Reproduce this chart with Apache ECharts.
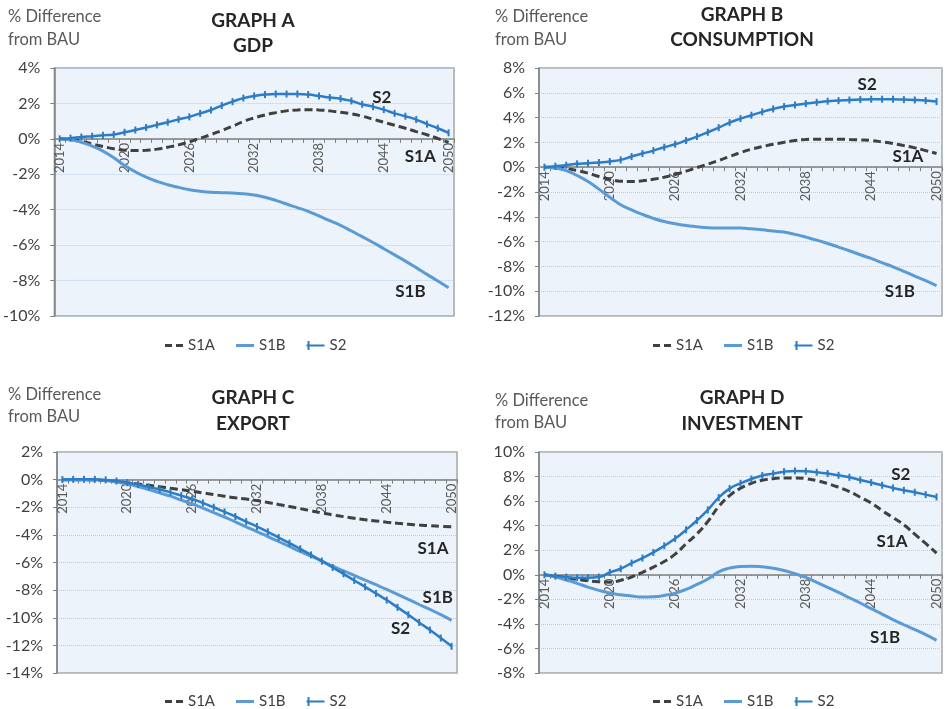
<!DOCTYPE html>
<html><head><meta charset="utf-8">
<script src="https://cdn.jsdelivr.net/npm/echarts@6/dist/echarts.min.js"></script>
<style>html,body{margin:0;padding:0;background:#fff}#c{width:945px;height:709px}</style>
</head><body><div id="c"></div>
<script>
const years = ['2014','2015','2016','2017','2018','2019','2020','2021','2022','2023','2024','2025','2026','2027','2028','2029','2030','2031','2032','2033','2034','2035','2036','2037','2038','2039','2040','2041','2042','2043','2044','2045','2046','2047','2048','2049','2050'];

const gdpS1A = [0,-0.04,-0.13,-0.28,-0.43,-0.56,-0.64,-0.66,-0.64,-0.58,-0.47,-0.34,-0.17,0.04,0.24,0.47,0.71,0.98,1.18,1.35,1.48,1.58,1.63,1.65,1.63,1.58,1.5,1.41,1.28,1.11,0.94,0.77,0.6,0.41,0.23,0.02,-0.2];
const gdpS1B = [0,-0.06,-0.19,-0.41,-0.69,-1.07,-1.5,-1.86,-2.16,-2.4,-2.59,-2.74,-2.87,-2.96,-3.02,-3.04,-3.06,-3.1,-3.17,-3.3,-3.47,-3.68,-3.88,-4.09,-4.35,-4.62,-4.88,-5.2,-5.52,-5.85,-6.2,-6.55,-6.9,-7.27,-7.65,-8.02,-8.4];
const gdpS2 = [0,0.04,0.1,0.15,0.2,0.25,0.37,0.5,0.64,0.79,0.94,1.1,1.24,1.44,1.63,1.88,2.1,2.3,2.42,2.5,2.53,2.53,2.53,2.5,2.42,2.33,2.27,2.14,1.95,1.82,1.65,1.44,1.28,1.09,0.83,0.6,0.34];

const consS1A = [0,-0.03,-0.11,-0.27,-0.48,-0.75,-0.97,-1.13,-1.15,-1.1,-0.97,-0.81,-0.59,-0.32,-0.03,0.24,0.54,0.86,1.18,1.45,1.66,1.85,2.01,2.15,2.23,2.26,2.26,2.26,2.23,2.2,2.15,2.04,1.91,1.74,1.56,1.34,1.1];
const consS1B = [0,-0.08,-0.27,-0.67,-1.15,-1.77,-2.42,-3.03,-3.44,-3.81,-4.13,-4.38,-4.56,-4.7,-4.8,-4.89,-4.91,-4.91,-4.91,-4.97,-5.05,-5.15,-5.23,-5.42,-5.64,-5.88,-6.15,-6.44,-6.74,-7.06,-7.36,-7.7,-8.03,-8.4,-8.78,-9.15,-9.56];
const consS2 = [0,0.08,0.16,0.27,0.32,0.38,0.46,0.59,0.86,1.1,1.34,1.61,1.85,2.15,2.47,2.82,3.19,3.6,3.92,4.19,4.46,4.7,4.89,5.02,5.13,5.23,5.32,5.37,5.42,5.45,5.48,5.48,5.48,5.45,5.42,5.37,5.29];

const expS1A = [0,0,-0.01,-0.03,-0.07,-0.13,-0.22,-0.31,-0.41,-0.51,-0.62,-0.73,-0.84,-0.96,-1.08,-1.2,-1.32,-1.41,-1.52,-1.65,-1.8,-1.95,-2.1,-2.25,-2.41,-2.55,-2.68,-2.8,-2.9,-2.99,-3.08,-3.16,-3.23,-3.29,-3.34,-3.38,-3.42];
const expS1B = [0,0,0,-0.02,-0.07,-0.17,-0.31,-0.51,-0.72,-0.96,-1.2,-1.49,-1.76,-2.07,-2.39,-2.72,-3.06,-3.42,-3.76,-4.12,-4.48,-4.84,-5.2,-5.54,-5.9,-6.27,-6.6,-6.94,-7.28,-7.61,-7.95,-8.31,-8.67,-9.04,-9.4,-9.78,-10.19];
const expS2 = [0,0.02,0.02,0.02,-0.02,-0.1,-0.22,-0.36,-0.53,-0.72,-0.92,-1.16,-1.4,-1.69,-2.0,-2.34,-2.67,-3.04,-3.4,-3.78,-4.19,-4.6,-5.01,-5.45,-5.9,-6.36,-6.82,-7.3,-7.76,-8.24,-8.72,-9.25,-9.78,-10.34,-10.89,-11.47,-12.07];

const invS1A = [0,-0.11,-0.24,-0.38,-0.49,-0.57,-0.6,-0.45,-0.18,0.2,0.62,1.08,1.68,2.52,3.33,4.34,5.56,6.45,7.05,7.45,7.7,7.83,7.89,7.89,7.83,7.67,7.43,7.13,6.78,6.31,5.85,5.23,4.66,4.07,3.31,2.55,1.76];
const invS1B = [0,-0.19,-0.43,-0.7,-1.0,-1.27,-1.49,-1.63,-1.73,-1.82,-1.79,-1.68,-1.49,-1.19,-0.79,-0.35,0.24,0.54,0.68,0.7,0.65,0.54,0.35,0.08,-0.22,-0.62,-1.03,-1.44,-1.87,-2.3,-2.76,-3.2,-3.66,-4.07,-4.47,-4.88,-5.34];
const invS2 = [0,-0.11,-0.19,-0.24,-0.24,-0.19,0.19,0.49,0.95,1.36,1.82,2.36,2.95,3.66,4.42,5.28,6.29,7.02,7.45,7.8,8.08,8.24,8.4,8.46,8.43,8.35,8.24,8.1,7.94,7.72,7.51,7.29,7.07,6.88,6.72,6.53,6.34];

const seriesNames = ['S1A','S1B','S2'];
const titles = ['GRAPH A\nGDP','GRAPH B\nCONSUMPTION','GRAPH C\nEXPORT','GRAPH D\nINVESTMENT'];
const yTitle = '% Difference\nfrom BAU';
const yMins = [-10,-12,-14,-8];
const yMaxs = [4,8,2,10];

const FONT = 'Lato';
const C_S1A = '#404040', C_S1B = '#5B9BD5', C_S2 = '#2C7CC6';
const ICONS = [
  'path://M0,4H7V7H0Z M11,4H18V7H11Z',
  'path://M0,4H18V7H0Z',
  'path://M0,4.5H18V6.5H0Z M1,1H3V10H1Z'
];

const panels = [
  {grid:{left:53,top:68,width:401,height:248}, title:{x:253,y:8,lh:25}, ytitle:{x:8,y:5,lh:23}, legend:{left:160,top:333},
   data:[gdpS1A,gdpS1B,gdpS2],
   labels:[{name:'S2',coord:[30,2.35],off:[-2,0]},{name:'S1A',coord:[33,-0.98],off:[4,0]},{name:'S1B',coord:[32,-8.6],off:[5,0]}]},
  {grid:{left:539,top:68,width:403,height:248}, title:{x:742,y:2,lh:25}, ytitle:{x:495,y:5,lh:23}, legend:{left:648,top:333},
   data:[consS1A,consS1B,consS2],
   labels:[{name:'S2',coord:[30,6.63],off:[-4,0]},{name:'S1A',coord:[33,0.9],off:[4,0]},{name:'S1B',coord:[33,-10.06],off:[-4,0]}]},
  {grid:{left:57,top:452,width:400,height:221}, title:{x:253,y:385,lh:26}, ytitle:{x:8,y:383,lh:22.5}, legend:{left:160,top:689},
   data:[expS1A,expS1B,expS2],
   labels:[{name:'S1A',coord:[34,-5.0],off:[3,0]},{name:'S1B',coord:[35,-8.55],off:[-3,0]},{name:'S2',coord:[31,-10.8],off:[3,0]}]},
  {grid:{left:539,top:452,width:403,height:221}, title:{x:742,y:385,lh:26}, ytitle:{x:495,y:390,lh:21.5}, legend:{left:648,top:689},
   data:[invS1A,invS1B,invS2],
   labels:[{name:'S2',coord:[33,8.2],off:[-3,0]},{name:'S1A',coord:[32,2.7],off:[-1,0]},{name:'S1B',coord:[31,-5.1],off:[3,0]}]}
];

const option = {animation:false, title:[], grid:[], xAxis:[], yAxis:[], series:[], legend:[]};
panels.forEach((p,i)=>{
  option.title.push({text:titles[i], left:p.title.x, top:p.title.y, textAlign:'center', padding:0,
    textStyle:{fontFamily:FONT,fontSize:19,fontWeight:'bold',color:'#262626',lineHeight:p.title.lh}});
  option.title.push({text:yTitle, left:p.ytitle.x, top:p.ytitle.y, padding:0,
    textStyle:{fontFamily:FONT,fontSize:16.5,fontWeight:'normal',color:'#595959',lineHeight:p.ytitle.lh}});
  option.grid.push(Object.assign({show:true,backgroundColor:'#ECF3FA',borderColor:'#A6A6A6',borderWidth:1.5}, p.grid));
  // place the category axis on the zero line of the value axis
  const zeroOffset = p.grid.height * yMins[i] / (yMaxs[i] - yMins[i]);
  option.xAxis.push({type:'category',gridIndex:i,data:years,boundaryGap:true,position:'bottom',offset:zeroOffset,
    axisLine:{onZero:false,lineStyle:{color:'#7F7F7F',width:1.5}},
    axisTick:{show:true,interval:0,length:4,lineStyle:{color:'#7F7F7F'}},
    axisLabel:{interval:5,rotate:90,fontFamily:FONT,fontSize:13,color:'#595959',margin:4},
    splitLine:{show:false}});
  option.yAxis.push({type:'value',gridIndex:i,min:yMins[i],max:yMaxs[i],interval:2,
    axisLine:{show:true,onZero:false,lineStyle:{color:'#7F7F7F',width:1.5}},
    axisTick:{show:true,length:4,lineStyle:{color:'#7F7F7F'}},
    axisLabel:{formatter:'{value}%',fontFamily:FONT,fontSize:16,color:'#404040',margin:14},
    splitLine:{show:true,lineStyle:{type:'dotted',color:'#B9CCE2',width:1}}});
  option.series.push({type:'line',name:seriesNames[0],xAxisIndex:i,yAxisIndex:i,data:p.data[0],smooth:true,
    symbol:'none',showSymbol:false,lineStyle:{color:C_S1A,width:3,type:[8,4]},itemStyle:{color:C_S1A},z:2});
  option.series.push({type:'line',name:seriesNames[1],xAxisIndex:i,yAxisIndex:i,data:p.data[1],smooth:true,
    symbol:'none',showSymbol:false,lineStyle:{color:C_S1B,width:3},itemStyle:{color:C_S1B},z:3});
  option.series.push({type:'line',name:seriesNames[2],xAxisIndex:i,yAxisIndex:i,data:p.data[2],smooth:true,
    symbol:'rect',symbolSize:[2,7],showSymbol:true,lineStyle:{color:C_S2,width:2.5},itemStyle:{color:C_S2},z:4,
    markPoint:{symbol:'circle',symbolSize:0,silent:true,
      label:{show:true,position:'inside',formatter:'{b}',fontFamily:FONT,fontWeight:'bold',fontSize:17,color:'#262626'},
      data:p.labels.map(l=>({name:l.name,coord:l.coord,label:{offset:l.off}}))}});
  option.legend.push({left:p.legend.left,top:p.legend.top,orient:'horizontal',itemWidth:18,itemHeight:11,itemGap:21,
    data:seriesNames.map((n,k)=>({name:n,icon:ICONS[k]})),
    textStyle:{fontFamily:FONT,fontSize:15,color:'#404040'},selectedMode:false});
});
const chart = echarts.init(document.getElementById('c'),null,{renderer:'canvas'});
chart.setOption(option);
</script></body></html>
